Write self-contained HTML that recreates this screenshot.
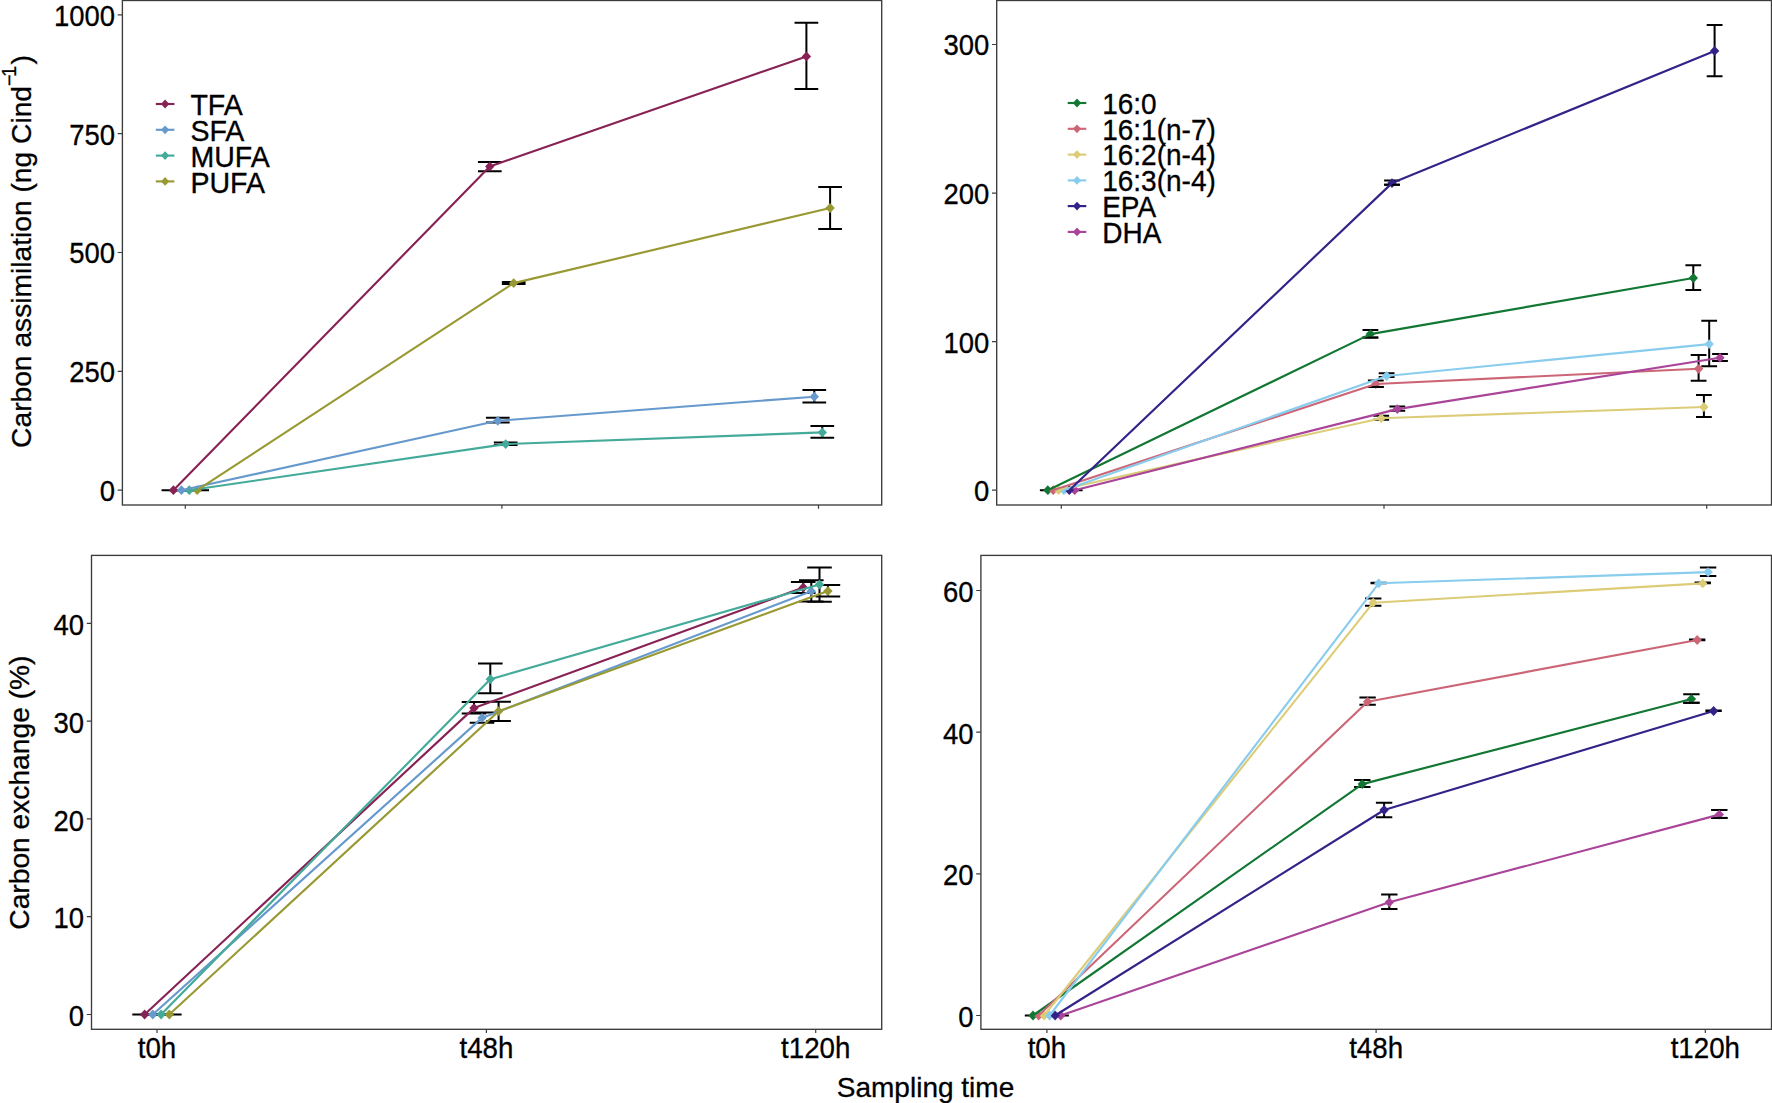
<!DOCTYPE html>
<html lang="en"><head><meta charset="utf-8"><title>Carbon assimilation and carbon exchange</title>
<style>
html,body{margin:0;padding:0;background:#fff;}
body{width:1772px;height:1103px;overflow:hidden;}
svg{display:block;}
svg text{font-family:"Liberation Sans", sans-serif;font-size:28px;fill:#000;stroke:#000;stroke-width:0.3px;}
</style></head><body>
<svg width="1772" height="1103" viewBox="0 0 1772 1103">
<rect width="1772" height="1103" fill="#fff"/>
<g><path d="M161.55 490.20H185.25M161.55 490.20H185.25" fill="none" stroke="#000" stroke-width="2.0"/><path d="M477.95 162.00H501.65M477.95 171.20H501.65M489.80 162.00V171.20" fill="none" stroke="#000" stroke-width="2.0"/><path d="M794.55 22.80H818.25M794.55 89.00H818.25M806.40 22.80V89.00" fill="none" stroke="#000" stroke-width="2.0"/><path d="M169.55 490.20H193.25M169.55 490.20H193.25" fill="none" stroke="#000" stroke-width="2.0"/><path d="M485.95 417.80H509.65M485.95 422.50H509.65M497.80 417.80V422.50" fill="none" stroke="#000" stroke-width="2.0"/><path d="M802.45 389.90H826.15M802.45 402.40H826.15M814.30 389.90V402.40" fill="none" stroke="#000" stroke-width="2.0"/><path d="M177.45 490.20H201.15M177.45 490.20H201.15" fill="none" stroke="#000" stroke-width="2.0"/><path d="M493.85 442.50H517.55M493.85 444.90H517.55M505.70 442.50V444.90" fill="none" stroke="#000" stroke-width="2.0"/><path d="M810.45 426.10H834.15M810.45 437.70H834.15M822.30 426.10V437.70" fill="none" stroke="#000" stroke-width="2.0"/><path d="M185.35 490.20H209.05M185.35 490.20H209.05" fill="none" stroke="#000" stroke-width="2.0"/><path d="M501.85 282.00H525.55M501.85 284.00H525.55M513.70 282.00V284.00" fill="none" stroke="#000" stroke-width="2.0"/><path d="M818.25 186.90H841.95M818.25 229.10H841.95M830.10 186.90V229.10" fill="none" stroke="#000" stroke-width="2.0"/></g>
<g><path d="M173.40 485.30L178.10 490.20L173.40 495.10L168.70 490.20Z" fill="#882255"/><path d="M489.80 161.60L494.50 166.50L489.80 171.40L485.10 166.50Z" fill="#882255"/><path d="M806.40 51.50L811.10 56.40L806.40 61.30L801.70 56.40Z" fill="#882255"/><path d="M181.40 485.30L186.10 490.20L181.40 495.10L176.70 490.20Z" fill="#6699CC"/><path d="M497.80 415.90L502.50 420.80L497.80 425.70L493.10 420.80Z" fill="#6699CC"/><path d="M814.30 391.80L819.00 396.70L814.30 401.60L809.60 396.70Z" fill="#6699CC"/><path d="M189.30 485.30L194.00 490.20L189.30 495.10L184.60 490.20Z" fill="#44AA99"/><path d="M505.70 439.20L510.40 444.10L505.70 449.00L501.00 444.10Z" fill="#44AA99"/><path d="M822.30 427.50L827.00 432.40L822.30 437.30L817.60 432.40Z" fill="#44AA99"/><path d="M197.20 485.30L201.90 490.20L197.20 495.10L192.50 490.20Z" fill="#999933"/><path d="M513.70 278.20L518.40 283.10L513.70 288.00L509.00 283.10Z" fill="#999933"/><path d="M830.10 203.10L834.80 208.00L830.10 212.90L825.40 208.00Z" fill="#999933"/></g>
<g></g>
<g><polyline points="173.40,490.20 489.80,166.50 806.40,56.40" fill="none" stroke="#882255" stroke-width="2.15" stroke-linejoin="round"/><polyline points="181.40,490.20 497.80,420.80 814.30,396.70" fill="none" stroke="#6699CC" stroke-width="2.15" stroke-linejoin="round"/><polyline points="189.30,490.20 505.70,444.10 822.30,432.40" fill="none" stroke="#44AA99" stroke-width="2.15" stroke-linejoin="round"/><polyline points="197.20,490.20 513.70,283.10 830.10,208.00" fill="none" stroke="#999933" stroke-width="2.15" stroke-linejoin="round"/></g>
<rect x="122.4" y="0.5" width="759.3000000000001" height="504.5" fill="none" stroke="#3c3c3c" stroke-width="1.35"/>
<path d="M117.70 14.80H122.4M117.70 133.60H122.4M117.70 252.50H122.4M117.70 371.30H122.4M117.70 490.20H122.4M185.30 505.0V508.80M501.90 505.0V508.80M818.50 505.0V508.80" stroke="#3c3c3c" stroke-width="1.2" fill="none"/>
<text transform="translate(115.0 25.7) scale(0.98 1.055)" text-anchor="end">1000</text>
<text transform="translate(115.0 144.5) scale(0.98 1.055)" text-anchor="end">750</text>
<text transform="translate(115.0 263.4) scale(0.98 1.055)" text-anchor="end">500</text>
<text transform="translate(115.0 382.2) scale(0.98 1.055)" text-anchor="end">250</text>
<text transform="translate(115.0 501.1) scale(0.98 1.055)" text-anchor="end">0</text>
<path d="M155.8 104.0H174.4" stroke="#882255" stroke-width="2.15"/>
<path d="M165.10 99.60L169.20 104.00L165.10 108.40L161.00 104.00Z" fill="#882255"/>
<text transform="translate(190.4 115.1) scale(1.02 1.06)">TFA</text>
<path d="M155.8 129.8H174.4" stroke="#6699CC" stroke-width="2.15"/>
<path d="M165.10 125.40L169.20 129.80L165.10 134.20L161.00 129.80Z" fill="#6699CC"/>
<text transform="translate(190.4 140.9) scale(1.02 1.06)">SFA</text>
<path d="M155.8 155.6H174.4" stroke="#44AA99" stroke-width="2.15"/>
<path d="M165.10 151.20L169.20 155.60L165.10 160.00L161.00 155.60Z" fill="#44AA99"/>
<text transform="translate(190.4 166.7) scale(1.02 1.06)">MUFA</text>
<path d="M155.8 181.4H174.4" stroke="#999933" stroke-width="2.15"/>
<path d="M165.10 177.00L169.20 181.40L165.10 185.80L161.00 181.40Z" fill="#999933"/>
<text transform="translate(190.4 192.5) scale(1.02 1.06)">PUFA</text>
<g><path d="M1039.90 490.20H1055.70M1039.90 490.20H1055.70" fill="none" stroke="#000" stroke-width="2.0"/><path d="M1362.50 329.90H1378.30M1362.50 337.60H1378.30M1370.40 329.90V337.60" fill="none" stroke="#000" stroke-width="2.0"/><path d="M1685.40 265.20H1701.20M1685.40 289.90H1701.20M1693.30 265.20V289.90" fill="none" stroke="#000" stroke-width="2.0"/><path d="M1045.30 490.20H1061.10M1045.30 490.20H1061.10" fill="none" stroke="#000" stroke-width="2.0"/><path d="M1367.90 380.50H1383.70M1367.90 386.90H1383.70M1375.80 380.50V386.90" fill="none" stroke="#000" stroke-width="2.0"/><path d="M1690.70 355.00H1706.50M1690.70 380.70H1706.50M1698.60 355.00V380.70" fill="none" stroke="#000" stroke-width="2.0"/><path d="M1050.70 490.20H1066.50M1050.70 490.20H1066.50" fill="none" stroke="#000" stroke-width="2.0"/><path d="M1373.30 415.80H1389.10M1373.30 419.80H1389.10M1381.20 415.80V419.80" fill="none" stroke="#000" stroke-width="2.0"/><path d="M1696.00 395.10H1711.80M1696.00 417.00H1711.80M1703.90 395.10V417.00" fill="none" stroke="#000" stroke-width="2.0"/><path d="M1056.00 490.20H1071.80M1056.00 490.20H1071.80" fill="none" stroke="#000" stroke-width="2.0"/><path d="M1378.70 373.20H1394.50M1378.70 377.10H1394.50M1386.60 373.20V377.10" fill="none" stroke="#000" stroke-width="2.0"/><path d="M1701.30 320.80H1717.10M1701.30 366.20H1717.10M1709.20 320.80V366.20" fill="none" stroke="#000" stroke-width="2.0"/><path d="M1061.40 490.20H1077.20M1061.40 490.20H1077.20" fill="none" stroke="#000" stroke-width="2.0"/><path d="M1384.10 180.40H1399.90M1384.10 184.70H1399.90M1392.00 180.40V184.70" fill="none" stroke="#000" stroke-width="2.0"/><path d="M1706.70 24.90H1722.50M1706.70 76.20H1722.50M1714.60 24.90V76.20" fill="none" stroke="#000" stroke-width="2.0"/><path d="M1066.80 490.20H1082.60M1066.80 490.20H1082.60" fill="none" stroke="#000" stroke-width="2.0"/><path d="M1389.40 406.50H1405.20M1389.40 410.80H1405.20M1397.30 406.50V410.80" fill="none" stroke="#000" stroke-width="2.0"/><path d="M1712.10 354.00H1727.90M1712.10 360.90H1727.90M1720.00 354.00V360.90" fill="none" stroke="#000" stroke-width="2.0"/></g>
<g><path d="M1047.80 485.30L1052.50 490.20L1047.80 495.10L1043.10 490.20Z" fill="#117733"/><path d="M1370.40 329.20L1375.10 334.10L1370.40 339.00L1365.70 334.10Z" fill="#117733"/><path d="M1693.30 273.10L1698.00 278.00L1693.30 282.90L1688.60 278.00Z" fill="#117733"/><path d="M1053.20 485.30L1057.90 490.20L1053.20 495.10L1048.50 490.20Z" fill="#CC6677"/><path d="M1375.80 379.10L1380.50 384.00L1375.80 388.90L1371.10 384.00Z" fill="#CC6677"/><path d="M1698.60 363.90L1703.30 368.80L1698.60 373.70L1693.90 368.80Z" fill="#CC6677"/><path d="M1058.60 485.30L1063.30 490.20L1058.60 495.10L1053.90 490.20Z" fill="#DDCC77"/><path d="M1381.20 413.30L1385.90 418.20L1381.20 423.10L1376.50 418.20Z" fill="#DDCC77"/><path d="M1703.90 402.10L1708.60 407.00L1703.90 411.90L1699.20 407.00Z" fill="#DDCC77"/><path d="M1063.90 485.30L1068.60 490.20L1063.90 495.10L1059.20 490.20Z" fill="#88CCEE"/><path d="M1386.60 371.10L1391.30 376.00L1386.60 380.90L1381.90 376.00Z" fill="#88CCEE"/><path d="M1709.20 339.20L1713.90 344.10L1709.20 349.00L1704.50 344.10Z" fill="#88CCEE"/><path d="M1074.70 485.30L1079.40 490.20L1074.70 495.10L1070.00 490.20Z" fill="#AA4499"/><path d="M1397.30 404.20L1402.00 409.10L1397.30 414.00L1392.60 409.10Z" fill="#AA4499"/><path d="M1720.00 352.90L1724.70 357.80L1720.00 362.70L1715.30 357.80Z" fill="#AA4499"/><path d="M1069.30 485.30L1074.00 490.20L1069.30 495.10L1064.60 490.20Z" fill="#332288"/><path d="M1392.00 178.20L1396.70 183.10L1392.00 188.00L1387.30 183.10Z" fill="#332288"/><path d="M1714.60 46.00L1719.30 50.90L1714.60 55.80L1709.90 50.90Z" fill="#332288"/></g>
<g><path d="M1362.50 337.60H1378.30" fill="none" stroke="#000" stroke-width="2.0"/><path d="M1367.90 386.90H1383.70" fill="none" stroke="#000" stroke-width="2.0"/><path d="M1384.10 184.70H1399.90" fill="none" stroke="#000" stroke-width="2.0"/></g>
<g><polyline points="1047.80,490.20 1370.40,334.10 1693.30,278.00" fill="none" stroke="#117733" stroke-width="2.15" stroke-linejoin="round"/><polyline points="1053.20,490.20 1375.80,384.00 1698.60,368.80" fill="none" stroke="#CC6677" stroke-width="2.15" stroke-linejoin="round"/><polyline points="1058.60,490.20 1381.20,418.20 1703.90,407.00" fill="none" stroke="#DDCC77" stroke-width="2.15" stroke-linejoin="round"/><polyline points="1063.90,490.20 1386.60,376.00 1709.20,344.10" fill="none" stroke="#88CCEE" stroke-width="2.15" stroke-linejoin="round"/><polyline points="1069.30,490.20 1392.00,183.10 1714.60,50.90" fill="none" stroke="#332288" stroke-width="2.15" stroke-linejoin="round"/><polyline points="1074.70,490.20 1397.30,409.10 1720.00,357.80" fill="none" stroke="#AA4499" stroke-width="2.15" stroke-linejoin="round"/></g>
<rect x="996.7" y="0.5" width="774.8" height="504.5" fill="none" stroke="#3c3c3c" stroke-width="1.35"/>
<path d="M992.00 44.50H996.7M992.00 193.10H996.7M992.00 341.60H996.7M992.00 490.20H996.7M1061.30 505.0V508.80M1384.00 505.0V508.80M1706.70 505.0V508.80" stroke="#3c3c3c" stroke-width="1.2" fill="none"/>
<text transform="translate(989.3 55.4) scale(0.98 1.055)" text-anchor="end">300</text>
<text transform="translate(989.3 204.0) scale(0.98 1.055)" text-anchor="end">200</text>
<text transform="translate(989.3 352.5) scale(0.98 1.055)" text-anchor="end">100</text>
<text transform="translate(989.3 501.1) scale(0.98 1.055)" text-anchor="end">0</text>
<path d="M1067.7 103.0H1086.3" stroke="#117733" stroke-width="2.15"/>
<path d="M1077.00 98.60L1081.10 103.00L1077.00 107.40L1072.90 103.00Z" fill="#117733"/>
<text transform="translate(1102.2 113.7) scale(1.0 1.06)">16:0</text>
<path d="M1067.7 128.8H1086.3" stroke="#CC6677" stroke-width="2.15"/>
<path d="M1077.00 124.40L1081.10 128.80L1077.00 133.20L1072.90 128.80Z" fill="#CC6677"/>
<text transform="translate(1102.2 139.5) scale(1.0 1.06)">16:1(n-7)</text>
<path d="M1067.7 154.6H1086.3" stroke="#DDCC77" stroke-width="2.15"/>
<path d="M1077.00 150.20L1081.10 154.60L1077.00 159.00L1072.90 154.60Z" fill="#DDCC77"/>
<text transform="translate(1102.2 165.3) scale(1.0 1.06)">16:2(n-4)</text>
<path d="M1067.7 180.4H1086.3" stroke="#88CCEE" stroke-width="2.15"/>
<path d="M1077.00 176.00L1081.10 180.40L1077.00 184.80L1072.90 180.40Z" fill="#88CCEE"/>
<text transform="translate(1102.2 191.1) scale(1.0 1.06)">16:3(n-4)</text>
<path d="M1067.7 206.1H1086.3" stroke="#332288" stroke-width="2.15"/>
<path d="M1077.00 201.70L1081.10 206.10L1077.00 210.50L1072.90 206.10Z" fill="#332288"/>
<text transform="translate(1102.2 216.8) scale(1.0 1.06)">EPA</text>
<path d="M1067.7 231.9H1086.3" stroke="#AA4499" stroke-width="2.15"/>
<path d="M1077.00 227.50L1081.10 231.90L1077.00 236.30L1072.90 231.90Z" fill="#AA4499"/>
<text transform="translate(1102.2 242.6) scale(1.0 1.06)">DHA</text>
<g><path d="M132.30 1014.50H156.90M132.30 1014.50H156.90" fill="none" stroke="#000" stroke-width="2.0"/><path d="M461.70 702.00H486.30M461.70 713.60H486.30M474.00 702.00V713.60" fill="none" stroke="#000" stroke-width="2.0"/><path d="M790.90 582.00H815.50M790.90 593.00H815.50M803.20 582.00V593.00" fill="none" stroke="#000" stroke-width="2.0"/><path d="M140.50 1014.50H165.10M140.50 1014.50H165.10" fill="none" stroke="#000" stroke-width="2.0"/><path d="M469.70 712.40H494.30M469.70 722.80H494.30M482.00 712.40V722.80" fill="none" stroke="#000" stroke-width="2.0"/><path d="M799.00 580.20H823.60M799.00 601.60H823.60M811.30 580.20V601.60" fill="none" stroke="#000" stroke-width="2.0"/><path d="M148.80 1014.50H173.40M148.80 1014.50H173.40" fill="none" stroke="#000" stroke-width="2.0"/><path d="M478.00 663.40H502.60M478.00 693.30H502.60M490.30 663.40V693.30" fill="none" stroke="#000" stroke-width="2.0"/><path d="M807.20 567.40H831.80M807.20 601.70H831.80M819.50 567.40V601.70" fill="none" stroke="#000" stroke-width="2.0"/><path d="M157.00 1014.50H181.60M157.00 1014.50H181.60" fill="none" stroke="#000" stroke-width="2.0"/><path d="M486.30 701.70H510.90M486.30 721.10H510.90M498.60 701.70V721.10" fill="none" stroke="#000" stroke-width="2.0"/><path d="M815.60 585.00H840.20M815.60 596.40H840.20M827.90 585.00V596.40" fill="none" stroke="#000" stroke-width="2.0"/></g>
<g><path d="M144.60 1009.60L149.30 1014.50L144.60 1019.40L139.90 1014.50Z" fill="#882255"/><path d="M474.00 703.20L478.70 708.10L474.00 713.00L469.30 708.10Z" fill="#882255"/><path d="M803.20 582.60L807.90 587.50L803.20 592.40L798.50 587.50Z" fill="#882255"/><path d="M152.80 1009.60L157.50 1014.50L152.80 1019.40L148.10 1014.50Z" fill="#6699CC"/><path d="M482.00 713.00L486.70 717.90L482.00 722.80L477.30 717.90Z" fill="#6699CC"/><path d="M811.30 586.30L816.00 591.20L811.30 596.10L806.60 591.20Z" fill="#6699CC"/><path d="M161.10 1009.60L165.80 1014.50L161.10 1019.40L156.40 1014.50Z" fill="#44AA99"/><path d="M490.30 674.30L495.00 679.20L490.30 684.10L485.60 679.20Z" fill="#44AA99"/><path d="M819.50 579.60L824.20 584.50L819.50 589.40L814.80 584.50Z" fill="#44AA99"/><path d="M169.30 1009.60L174.00 1014.50L169.30 1019.40L164.60 1014.50Z" fill="#999933"/><path d="M498.60 706.30L503.30 711.20L498.60 716.10L493.90 711.20Z" fill="#999933"/><path d="M827.90 586.20L832.60 591.10L827.90 596.00L823.20 591.10Z" fill="#999933"/></g>
<g></g>
<g><polyline points="144.60,1014.50 474.00,708.10 803.20,587.50" fill="none" stroke="#882255" stroke-width="2.15" stroke-linejoin="round"/><polyline points="152.80,1014.50 482.00,717.90 811.30,591.20" fill="none" stroke="#6699CC" stroke-width="2.15" stroke-linejoin="round"/><polyline points="161.10,1014.50 490.30,679.20 819.50,584.50" fill="none" stroke="#44AA99" stroke-width="2.15" stroke-linejoin="round"/><polyline points="169.30,1014.50 498.60,711.20 827.90,591.10" fill="none" stroke="#999933" stroke-width="2.15" stroke-linejoin="round"/></g>
<rect x="91.5" y="555.4" width="790.2" height="473.9" fill="none" stroke="#3c3c3c" stroke-width="1.35"/>
<path d="M86.80 623.40H91.5M86.80 721.20H91.5M86.80 818.90H91.5M86.80 916.70H91.5M86.80 1014.50H91.5M157.00 1029.3V1033.10M486.40 1029.3V1033.10M815.70 1029.3V1033.10" stroke="#3c3c3c" stroke-width="1.2" fill="none"/>
<text transform="translate(84.1 635.0) scale(0.98 1.055)" text-anchor="end">40</text>
<text transform="translate(84.1 732.8) scale(0.98 1.055)" text-anchor="end">30</text>
<text transform="translate(84.1 830.5) scale(0.98 1.055)" text-anchor="end">20</text>
<text transform="translate(84.1 928.3) scale(0.98 1.055)" text-anchor="end">10</text>
<text transform="translate(84.1 1026.1) scale(0.98 1.055)" text-anchor="end">0</text>
<text transform="translate(157.0 1058.4) scale(0.99 1.03)" text-anchor="middle">t0h</text>
<text transform="translate(486.4 1058.4) scale(0.99 1.03)" text-anchor="middle">t48h</text>
<text transform="translate(815.7 1058.4) scale(0.99 1.03)" text-anchor="middle">t120h</text>
<g><path d="M1024.80 1015.50H1041.20M1024.80 1015.50H1041.20" fill="none" stroke="#000" stroke-width="2.0"/><path d="M1354.10 780.00H1370.50M1354.10 787.00H1370.50M1362.30 780.00V787.00" fill="none" stroke="#000" stroke-width="2.0"/><path d="M1683.20 694.30H1699.60M1683.20 702.80H1699.60M1691.40 694.30V702.80" fill="none" stroke="#000" stroke-width="2.0"/><path d="M1030.40 1015.50H1046.80M1030.40 1015.50H1046.80" fill="none" stroke="#000" stroke-width="2.0"/><path d="M1359.40 697.40H1375.80M1359.40 704.70H1375.80M1367.60 697.40V704.70" fill="none" stroke="#000" stroke-width="2.0"/><path d="M1689.00 639.50H1705.40M1689.00 640.30H1705.40M1697.20 639.50V640.30" fill="none" stroke="#000" stroke-width="2.0"/><path d="M1035.90 1015.50H1052.30M1035.90 1015.50H1052.30" fill="none" stroke="#000" stroke-width="2.0"/><path d="M1365.00 598.50H1381.40M1365.00 605.80H1381.40M1373.20 598.50V605.80" fill="none" stroke="#000" stroke-width="2.0"/><path d="M1694.50 582.50H1710.90M1694.50 583.30H1710.90M1702.70 582.50V583.30" fill="none" stroke="#000" stroke-width="2.0"/><path d="M1041.40 1015.50H1057.80M1041.40 1015.50H1057.80" fill="none" stroke="#000" stroke-width="2.0"/><path d="M1370.50 582.70H1386.90M1370.50 583.20H1386.90M1378.70 582.70V583.20" fill="none" stroke="#000" stroke-width="2.0"/><path d="M1699.90 567.40H1716.30M1699.90 575.90H1716.30M1708.10 567.40V575.90" fill="none" stroke="#000" stroke-width="2.0"/><path d="M1046.90 1015.50H1063.30M1046.90 1015.50H1063.30" fill="none" stroke="#000" stroke-width="2.0"/><path d="M1375.90 802.70H1392.30M1375.90 817.30H1392.30M1384.10 802.70V817.30" fill="none" stroke="#000" stroke-width="2.0"/><path d="M1705.40 710.50H1721.80M1705.40 711.10H1721.80M1713.60 710.50V711.10" fill="none" stroke="#000" stroke-width="2.0"/><path d="M1052.50 1015.50H1068.90M1052.50 1015.50H1068.90" fill="none" stroke="#000" stroke-width="2.0"/><path d="M1381.10 894.50H1397.50M1381.10 909.00H1397.50M1389.30 894.50V909.00" fill="none" stroke="#000" stroke-width="2.0"/><path d="M1711.10 809.90H1727.50M1711.10 817.90H1727.50M1719.30 809.90V817.90" fill="none" stroke="#000" stroke-width="2.0"/></g>
<g><path d="M1033.00 1010.60L1037.70 1015.50L1033.00 1020.40L1028.30 1015.50Z" fill="#117733"/><path d="M1362.30 779.20L1367.00 784.10L1362.30 789.00L1357.60 784.10Z" fill="#117733"/><path d="M1691.40 694.10L1696.10 699.00L1691.40 703.90L1686.70 699.00Z" fill="#117733"/><path d="M1038.60 1010.60L1043.30 1015.50L1038.60 1020.40L1033.90 1015.50Z" fill="#CC6677"/><path d="M1367.60 696.80L1372.30 701.70L1367.60 706.60L1362.90 701.70Z" fill="#CC6677"/><path d="M1697.20 635.10L1701.90 640.00L1697.20 644.90L1692.50 640.00Z" fill="#CC6677"/><path d="M1044.10 1010.60L1048.80 1015.50L1044.10 1020.40L1039.40 1015.50Z" fill="#DDCC77"/><path d="M1373.20 597.80L1377.90 602.70L1373.20 607.60L1368.50 602.70Z" fill="#DDCC77"/><path d="M1702.70 578.50L1707.40 583.40L1702.70 588.30L1698.00 583.40Z" fill="#DDCC77"/><path d="M1049.60 1010.60L1054.30 1015.50L1049.60 1020.40L1044.90 1015.50Z" fill="#88CCEE"/><path d="M1378.70 578.40L1383.40 583.30L1378.70 588.20L1374.00 583.30Z" fill="#88CCEE"/><path d="M1708.10 567.20L1712.80 572.10L1708.10 577.00L1703.40 572.10Z" fill="#88CCEE"/><path d="M1060.70 1010.60L1065.40 1015.50L1060.70 1020.40L1056.00 1015.50Z" fill="#AA4499"/><path d="M1389.30 897.40L1394.00 902.30L1389.30 907.20L1384.60 902.30Z" fill="#AA4499"/><path d="M1719.30 809.70L1724.00 814.60L1719.30 819.50L1714.60 814.60Z" fill="#AA4499"/><path d="M1055.10 1010.60L1059.80 1015.50L1055.10 1020.40L1050.40 1015.50Z" fill="#332288"/><path d="M1384.10 805.10L1388.80 810.00L1384.10 814.90L1379.40 810.00Z" fill="#332288"/><path d="M1713.60 706.10L1718.30 711.00L1713.60 715.90L1708.90 711.00Z" fill="#332288"/></g>
<g><path d="M1683.20 702.80H1699.60" fill="none" stroke="#000" stroke-width="2.0"/><path d="M1711.10 817.90H1727.50" fill="none" stroke="#000" stroke-width="2.0"/></g>
<g><polyline points="1033.00,1015.50 1362.30,784.10 1691.40,699.00" fill="none" stroke="#117733" stroke-width="2.15" stroke-linejoin="round"/><polyline points="1038.60,1015.50 1367.60,701.70 1697.20,640.00" fill="none" stroke="#CC6677" stroke-width="2.15" stroke-linejoin="round"/><polyline points="1044.10,1015.50 1373.20,602.70 1702.70,583.40" fill="none" stroke="#DDCC77" stroke-width="2.15" stroke-linejoin="round"/><polyline points="1049.60,1015.50 1378.70,583.30 1708.10,572.10" fill="none" stroke="#88CCEE" stroke-width="2.15" stroke-linejoin="round"/><polyline points="1055.10,1015.50 1384.10,810.00 1713.60,711.00" fill="none" stroke="#332288" stroke-width="2.15" stroke-linejoin="round"/><polyline points="1060.70,1015.50 1389.30,902.30 1719.30,814.60" fill="none" stroke="#AA4499" stroke-width="2.15" stroke-linejoin="round"/></g>
<rect x="980.9" y="555.4" width="790.6" height="473.9" fill="none" stroke="#3c3c3c" stroke-width="1.35"/>
<path d="M976.20 590.50H980.9M976.20 732.20H980.9M976.20 873.80H980.9M976.20 1015.50H980.9M1046.90 1029.3V1033.10M1376.10 1029.3V1033.10M1705.30 1029.3V1033.10" stroke="#3c3c3c" stroke-width="1.2" fill="none"/>
<text transform="translate(973.5 602.1) scale(0.98 1.055)" text-anchor="end">60</text>
<text transform="translate(973.5 743.8) scale(0.98 1.055)" text-anchor="end">40</text>
<text transform="translate(973.5 885.4) scale(0.98 1.055)" text-anchor="end">20</text>
<text transform="translate(973.5 1027.1) scale(0.98 1.055)" text-anchor="end">0</text>
<text transform="translate(1046.9 1058.4) scale(0.99 1.03)" text-anchor="middle">t0h</text>
<text transform="translate(1376.1 1058.4) scale(0.99 1.03)" text-anchor="middle">t48h</text>
<text transform="translate(1705.3 1058.4) scale(0.99 1.03)" text-anchor="middle">t120h</text>
<text style="font-size:28.2px" transform="translate(30.9 447.9) rotate(-90)">Carbon assimilation (ng Cind<tspan font-size="20" dy="-15.2">−</tspan><tspan font-size="20" dx="-2.6">1</tspan><tspan dy="15.2" dx="1.2">)</tspan></text>
<text style="font-size:28.2px" transform="translate(28.9 929.7) rotate(-90)">Carbon exchange (%)</text>
<text x="925.5" y="1097.2" text-anchor="middle">Sampling time</text>
</svg></body></html>
